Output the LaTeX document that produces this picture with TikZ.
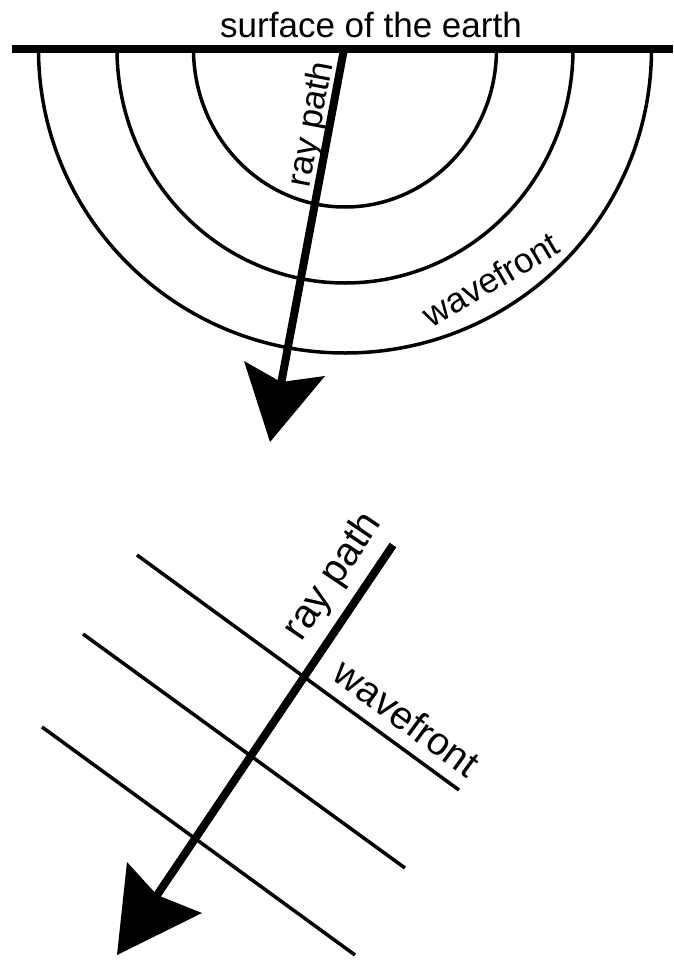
\documentclass[tikz,border=0pt]{standalone}
\usepackage{fontspec}
\setmainfont{Liberation Sans}
\begin{document}
\begin{tikzpicture}[x=1pt,y=-1pt,
  thinline/.style={line width=3.5pt},
  thickline/.style={line width=8pt},
  lbl/.style={font=\fontsize{35}{42}\selectfont, inner sep=0pt, anchor=base},
  biglbl/.style={lbl, font=\fontsize{39}{46}\selectfont},
  headfill/.style={fill=black}]
\useasboundingbox (0,0) rectangle (673,961);
% ---------- top: spherical wavefronts ----------
\coordinate (c) at (345,49);
\coordinate (sL) at (12,49);
\coordinate (sR) at (673,49);
\draw[thickline] (sL) -- (sR);
\draw[thinline] (c) ++(-151.5,0) arc[start angle=180,end angle=0,x radius=151.5,y radius=158];
\draw[thinline] (c) ++(-228,0) arc[start angle=180,end angle=0,x radius=228,y radius=234];
\draw[thinline] (c) ++(-306.5,0) arc[start angle=180,end angle=0,x radius=306.5,y radius=304];
% ray with arrowhead
\coordinate (r1s) at (344,49);
\coordinate (r1n) at (281,382);
\coordinate (r1e) at (278,400);
\coordinate (r1t) at (270,442);
\coordinate (r1a) at (244,361);
\coordinate (r1b) at (325,376);
\draw[thickline] (r1s) -- (r1e);
\fill[headfill] (r1t) -- (r1a) -- (r1n) -- (r1b) -- cycle;
\node[lbl] (title) at (371,37) {surface of the earth};
\node[lbl, rotate=79.3] (rp1) at (321,126) {ray path};
\node[lbl, rotate=30.5] (wf1) at (497,290) {wavefront};
% ---------- bottom: plane wavefronts ----------
\coordinate (w1a) at (137,555);
\coordinate (w1b) at (459,790);
\coordinate (w2a) at (83,634);
\coordinate (w2b) at (405,868);
\coordinate (w3a) at (42,727);
\coordinate (w3b) at (355,955);
\draw[thinline] (w1a) -- (w1b);
\draw[thinline] (w2a) -- (w2b);
\draw[thinline] (w3a) -- (w3b);
\coordinate (r2s) at (393,545);
\coordinate (r2n) at (157,895);
\coordinate (r2e) at (145,913);
\coordinate (r2t) at (117,955);
\coordinate (r2a) at (127,862);
\coordinate (r2b) at (202,913);
\draw[thickline] (r2s) -- (r2e);
\fill[headfill] (r2t) -- (r2a) -- (r2n) -- (r2b) -- cycle;
\node[biglbl, rotate=56, font=\fontsize{40}{48}\selectfont] (rp2) at (342,583) {ray path};
\node[biglbl, rotate=-36.3] (wf2) at (399,729) {wavefront};
\end{tikzpicture}
\end{document}
